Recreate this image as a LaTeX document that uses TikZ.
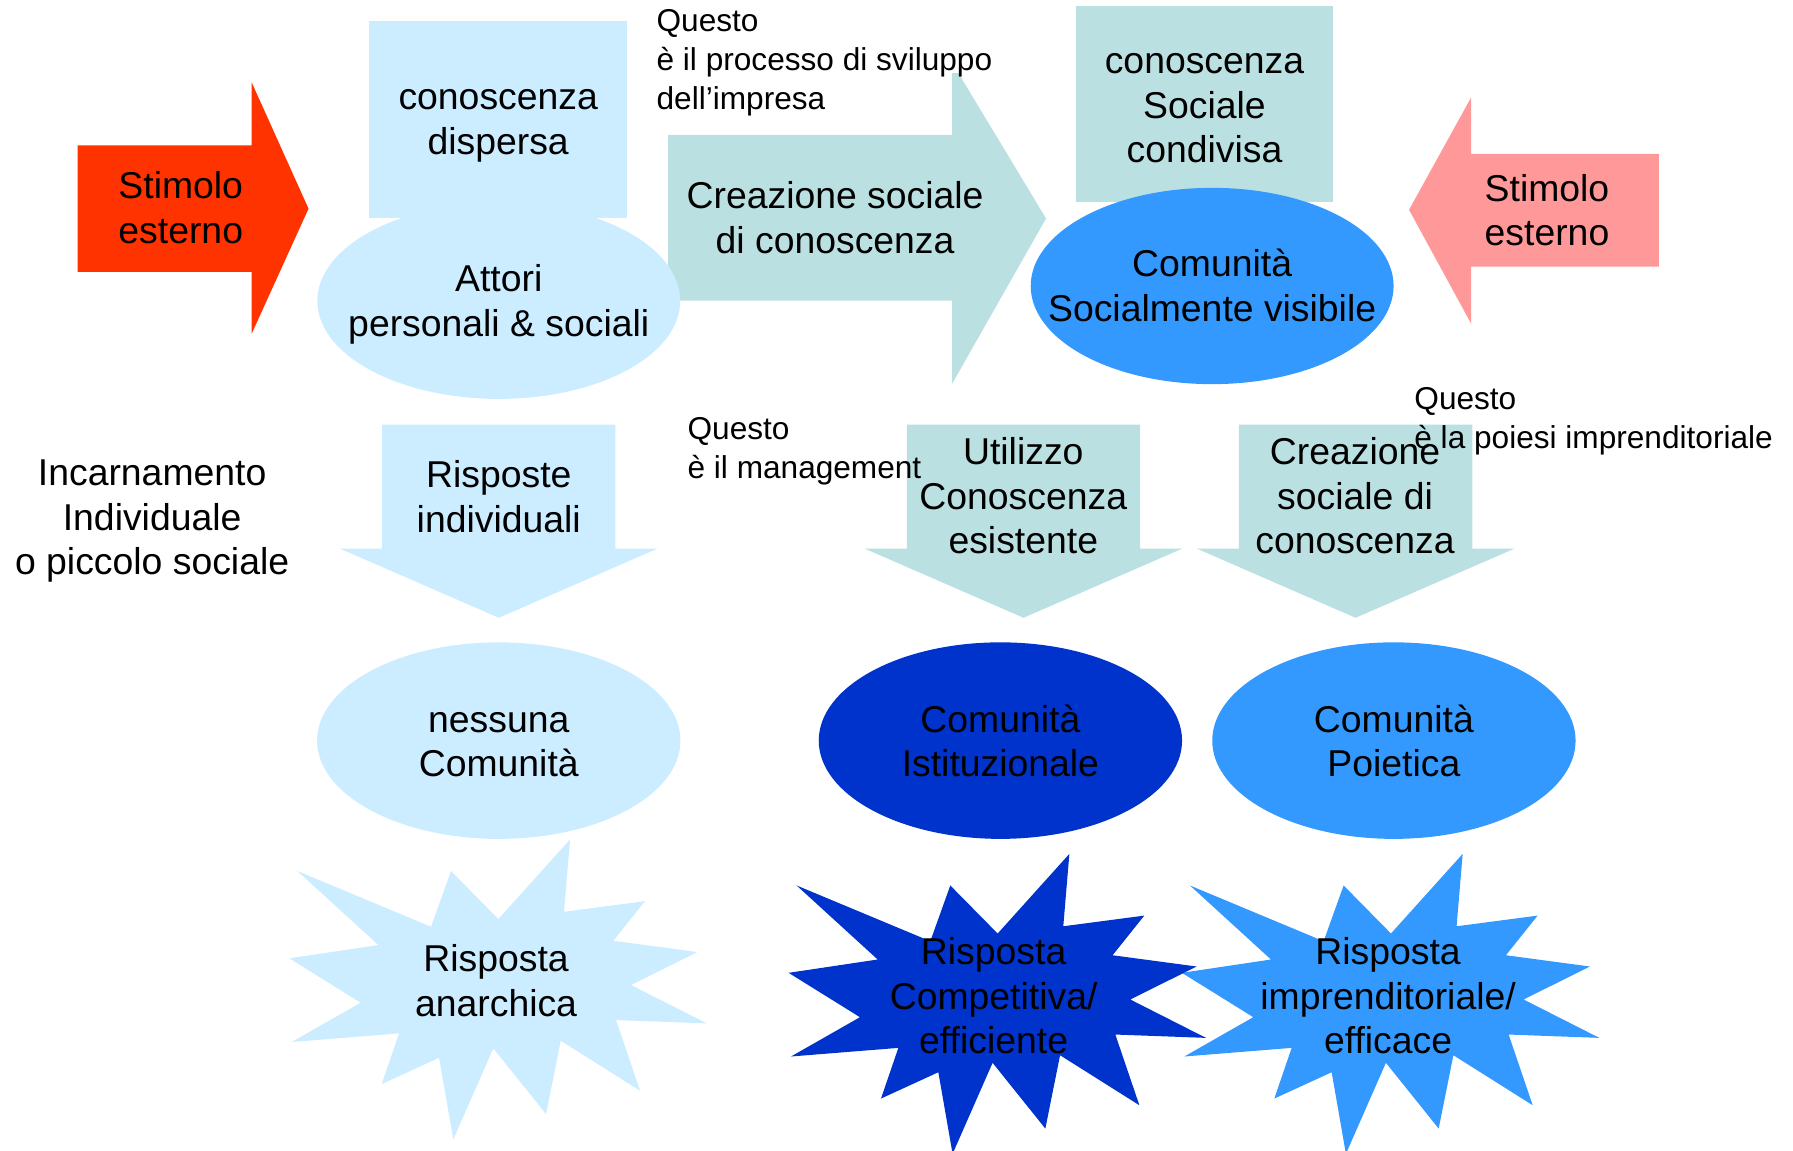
\documentclass[tikz,border=0pt]{standalone}
\usepackage{fontspec}
\setmainfont{Liberation Sans}
\definecolor{lb}{HTML}{CCECFF}
\definecolor{teal1}{HTML}{BAE0E2}
\definecolor{mb}{HTML}{3399FF}
\definecolor{db}{HTML}{0033CC}
\definecolor{redo}{HTML}{FF3300}
\definecolor{pinko}{HTML}{FF9999}
\begin{document}
\begin{tikzpicture}[x=1pt,y=-1pt,
  big/.style={font=\fontsize{32.5}{38.6}\selectfont, align=center, inner sep=0pt, text=black},
  small/.style={font=\fontsize{27.5}{33.6}\selectfont, align=left, inner sep=0pt, anchor=west, text=black},
  burst/.pic={\fill[pic actions] (258.7,757.8) -- (375.0,806.3) -- (392.4,757.8) -- (433.6,799.6) -- (496.0,730.3) -- (490.7,793.3) -- (561.2,784.0) -- (533.6,818.5) -- (606.7,828.3) -- (549.0,857.0) -- (614.9,890.4) -- (536.0,887.5) -- (556.9,949.0) -- (487.9,905.5) -- (475.1,969.3) -- (429.2,912.1) -- (394.4,991.3) -- (382.0,920.3) -- (332.1,943.2) -- (347.2,899.1) -- (253.8,906.6) -- (313.8,872.4) -- (251.7,833.8) -- (329.2,822.2) -- cycle;},
  downarrow/.pic={\fill[pic actions] (-101.5,369.5) -- (101.5,369.5) -- (101.5,477.3) -- (138.2,477.3) -- (0,537.5) -- (-138.2,477.3) -- (-101.5,477.3) -- cycle;}
]
\useasboundingbox (0,0) rectangle (1560,1001.4);

\begin{scope}[scale=0.9953]
% top row shapes
\fill[redo] (67.8,127) -- (220,127) -- (220,72) -- (269.7,182.4) -- (220,291.7) -- (220,237.6) -- (67.8,237.6) -- cycle;
\fill[teal1] (584,117.8) -- (832.4,117.8) -- (832.4,55) -- (914.4,191) -- (832.4,335.3) -- (832.4,262.7) -- (584,262.7) -- cycle;
\fill[lb] (322.8,18.4) rectangle (547.7,190.7);
\fill[lb] (436,263) ellipse [x radius=158.6pt, y radius=85.7pt];
\fill[teal1] (940.3,5.4) rectangle (1165.5,177);
\fill[mb] (1059.6,250) ellipse [x radius=158.6pt, y radius=85.8pt];
\fill[pinko] (1450,134.5) -- (1285.9,134.5) -- (1285.9,85.3) -- (1231.7,183.4) -- (1285.9,282.8) -- (1285.9,233) -- (1450,233) -- cycle;
\fill[white] (566,0) rectangle (880,64);

% middle row arrows
\pic[fill=lb] at (436,0) {downarrow};
\pic[fill=teal1] at (894.7,0) {downarrow};
\pic[fill=teal1] at (1185,0) {downarrow};

% ellipses row 2
\fill[lb] (436,647.4) ellipse [x radius=158.8pt, y radius=85.9pt];
\fill[db] (874.5,647.4) ellipse [x radius=158.8pt, y radius=85.9pt];
\fill[mb] (1218.5,647.4) ellipse [x radius=158.8pt, y radius=85.9pt];
\end{scope}

% bursts
\pic[fill=mb] at (776.6,12.6) {burst};
\pic[fill=db] at (434.4,12.6) {burst};
\pic[fill=lb] at (0,0) {burst};

% texts
\begin{scope}[scale=0.9953]
\node[big] (stim1) at (158,185.3) {\strut Stimolo\\\strut esterno};
\node[big] (cdisp) at (435.5,107.7) {\strut conoscenza\\\strut dispersa};
\node[big] (attori) at (436,266.7) {\strut Attori\\\strut personali \& sociali};
\node[big] (crea1) at (730,194.3) {\strut Creazione sociale\\\strut di conoscenza};
\node[big] (csoc) at (1052.9,95.4) {\strut conoscenza\\\strut Sociale\\\strut condivisa};
\node[big] (cvis) at (1059.6,253.7) {\strut Comunità\\\strut Socialmente visibile};
\node[big] (stim2) at (1352.3,187.7) {\strut Stimolo\\\strut esterno};
\node[big] (incarn) at (133,455.7) {\strut Incarnamento\\\strut Individuale\\\strut o piccolo sociale};
\node[big] (risp) at (436,438) {\strut Risposte\\\strut individuali};
\node[big] (util) at (894.5,437.4) {\strut Utilizzo\\\strut Conoscenza\\\strut esistente};
\node[big] (crea2) at (1184.5,437.2) {\strut Creazione\\\strut sociale di\\\strut conoscenza};
\node[big] (nessuna) at (436,651.8) {\strut nessuna\\\strut Comunità};
\node[big] (istit) at (874.5,651.8) {\strut Comunità\\\strut Istituzionale};
\node[big] (poiet) at (1218.5,651.8) {\strut Comunità\\\strut Poietica};
\node[small] (q1) at (573.8,54.8) {\strut Questo\\\strut è il processo di sviluppo\\\strut dell’impresa};
\node[small] (q2) at (600.9,394.6) {\strut Questo\\\strut è il management};
\node[small] (q3) at (1236.2,368.5) {\strut Questo\\\strut è la poiesi imprenditoriale};
\end{scope}
\node[big] (anarch) at (431.6,857) {\strut Risposta\\\strut anarchica};
\node[big] (compet) at (864.5,870.2) {\strut Risposta\\\strut Competitiva/\\\strut efficiente};
\node[big] (impren) at (1207.7,870.2) {\strut Risposta\\\strut imprenditoriale/\\\strut efficace};
\end{tikzpicture}
\end{document}
